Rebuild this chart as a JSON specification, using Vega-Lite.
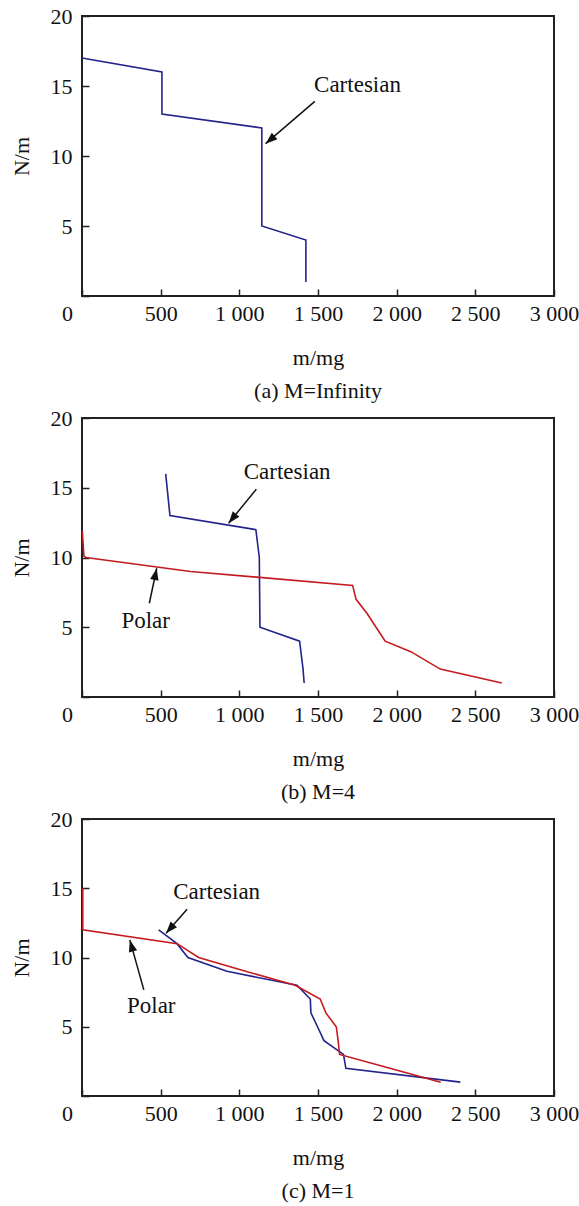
{
  "$schema": "https://vega.github.io/schema/vega-lite/v6.json",
  "background": "white",
  "padding": {"left": 9, "top": 4, "right": 0, "bottom": 0},
  "datasets": {
    "curves": [
      {"panel": "a", "series": "Cartesian", "m": 0, "N": 17},
      {"panel": "a", "series": "Cartesian", "m": 508, "N": 16},
      {"panel": "a", "series": "Cartesian", "m": 508, "N": 13},
      {"panel": "a", "series": "Cartesian", "m": 1143, "N": 12},
      {"panel": "a", "series": "Cartesian", "m": 1143, "N": 5},
      {"panel": "a", "series": "Cartesian", "m": 1423, "N": 4},
      {"panel": "a", "series": "Cartesian", "m": 1423, "N": 1},

      {"panel": "b", "series": "Cartesian", "m": 532, "N": 16},
      {"panel": "b", "series": "Cartesian", "m": 559, "N": 13},
      {"panel": "b", "series": "Cartesian", "m": 1105, "N": 12},
      {"panel": "b", "series": "Cartesian", "m": 1127, "N": 10},
      {"panel": "b", "series": "Cartesian", "m": 1131, "N": 5},
      {"panel": "b", "series": "Cartesian", "m": 1383, "N": 4},
      {"panel": "b", "series": "Cartesian", "m": 1405, "N": 2},
      {"panel": "b", "series": "Cartesian", "m": 1412, "N": 1},
      {"panel": "b", "series": "Polar", "m": 2, "N": 11.9},
      {"panel": "b", "series": "Polar", "m": 12, "N": 10.1},
      {"panel": "b", "series": "Polar", "m": 25, "N": 10},
      {"panel": "b", "series": "Polar", "m": 690, "N": 9},
      {"panel": "b", "series": "Polar", "m": 1720, "N": 8},
      {"panel": "b", "series": "Polar", "m": 1742, "N": 7},
      {"panel": "b", "series": "Polar", "m": 1811, "N": 6},
      {"panel": "b", "series": "Polar", "m": 1869, "N": 5},
      {"panel": "b", "series": "Polar", "m": 1927, "N": 4},
      {"panel": "b", "series": "Polar", "m": 2090, "N": 3.25},
      {"panel": "b", "series": "Polar", "m": 2277, "N": 2},
      {"panel": "b", "series": "Polar", "m": 2668, "N": 1},

      {"panel": "c", "series": "Cartesian", "m": 487, "N": 12},
      {"panel": "c", "series": "Cartesian", "m": 604, "N": 11},
      {"panel": "c", "series": "Cartesian", "m": 673, "N": 10},
      {"panel": "c", "series": "Cartesian", "m": 921, "N": 9},
      {"panel": "c", "series": "Cartesian", "m": 1366, "N": 8},
      {"panel": "c", "series": "Cartesian", "m": 1451, "N": 7},
      {"panel": "c", "series": "Cartesian", "m": 1455, "N": 6},
      {"panel": "c", "series": "Cartesian", "m": 1497, "N": 5},
      {"panel": "c", "series": "Cartesian", "m": 1538, "N": 4},
      {"panel": "c", "series": "Cartesian", "m": 1662, "N": 3},
      {"panel": "c", "series": "Cartesian", "m": 1677, "N": 2},
      {"panel": "c", "series": "Cartesian", "m": 2405, "N": 1},
      {"panel": "c", "series": "Polar", "m": 5, "N": 15},
      {"panel": "c", "series": "Polar", "m": 5, "N": 12},
      {"panel": "c", "series": "Polar", "m": 605, "N": 11},
      {"panel": "c", "series": "Polar", "m": 741, "N": 10},
      {"panel": "c", "series": "Polar", "m": 1040, "N": 9},
      {"panel": "c", "series": "Polar", "m": 1355, "N": 8},
      {"panel": "c", "series": "Polar", "m": 1514, "N": 7},
      {"panel": "c", "series": "Polar", "m": 1550, "N": 6},
      {"panel": "c", "series": "Polar", "m": 1616, "N": 5},
      {"panel": "c", "series": "Polar", "m": 1628, "N": 4},
      {"panel": "c", "series": "Polar", "m": 1637, "N": 3},
      {"panel": "c", "series": "Polar", "m": 1957, "N": 2},
      {"panel": "c", "series": "Polar", "m": 2280, "N": 1}
    ],
    "notes": [
      {"panel": "a", "label": "Cartesian", "m": 1751, "N": 15.07, "m0": 1480, "N0": 13.9, "m1": 1167, "N1": 10.88},
      {"panel": "b", "label": "Cartesian", "m": 1304, "N": 16.1, "m0": 1108, "N0": 14.9, "m1": 932, "N1": 12.46},
      {"panel": "b", "label": "Polar", "m": 405, "N": 5.46, "m0": 428, "N0": 6.72, "m1": 475, "N1": 9.23},
      {"panel": "c", "label": "Cartesian", "m": 856, "N": 14.76, "m0": 668, "N0": 13.48, "m1": 534, "N1": 11.75},
      {"panel": "c", "label": "Polar", "m": 440, "N": 6.47, "m0": 393, "N0": 7.66, "m1": 304, "N1": 11.27}
    ]
  },
  "config": {
    "font": "Liberation Serif",
    "view": {"stroke": "#222222", "strokeWidth": 2},
    "axis": {
      "domain": false,
      "grid": false,
      "ticks": true,
      "tickColor": "#222222",
      "tickWidth": 1.5,
      "tickSize": -7,
      "labelFlush": false,
      "labelOverlap": false,
      "labelFont": "Liberation Serif",
      "labelFontSize": 22,
      "labelColor": "#111111",
      "titleFont": "Liberation Serif",
      "titleFontSize": 22,
      "titleFontWeight": "normal",
      "titleColor": "#111111"
    },
    "title": {"font": "Liberation Serif", "fontSize": 22, "fontWeight": "normal", "color": "#111111"},
    "concat": {"spacing": 3}
  },
  "vconcat": [
    {
      "width": 472, "height": 280,
      "title": {"text": "(a) M=Infinity", "orient": "bottom", "offset": 13},
      "layer": [
        {
          "data": {"name": "curves"},
          "transform": [{"filter": "datum.panel === 'a'"}],
          "mark": {"type": "line", "strokeWidth": 1.6},
          "encoding": {
            "x": {"field": "m", "type": "quantitative", "scale": {"domain": [0, 3000], "nice": false},
                  "axis": {"values": [0, 500, 1000, 1500, 2000, 2500, 3000], "title": "m/mg", "labelPadding": 14, "titlePadding": 23,
                           "labelExpr": "replace(format(datum.value, ','), ',', ' ')",
                           "labelOffset": {"condition": {"test": "datum.value === 0", "value": -15}, "value": 0}}},
            "y": {"field": "N", "type": "quantitative", "scale": {"domain": [0, 20], "nice": false},
                  "axis": {"values": [0, 5, 10, 15, 20], "title": "N/m", "labelPadding": 17, "titlePadding": 17,
                           "labelExpr": "datum.value === 0 ? '' : datum.label"}},
            "color": {"field": "series", "type": "nominal", "scale": {"domain": ["Cartesian", "Polar"], "range": ["#23238c", "#c41a1f"]}, "legend": null},
            "order": {"value": null}
          }
        },
        {
          "data": {"name": "notes"},
          "transform": [{"filter": "datum.panel === 'a'"}],
          "layer": [
            {"mark": {"type": "rule", "strokeWidth": 1.5, "color": "#111111"},
             "encoding": {"x": {"field": "m0", "type": "quantitative"}, "y": {"field": "N0", "type": "quantitative"},
                          "x2": {"field": "m1"}, "y2": {"field": "N1"}}},
            {"transform": [{"calculate": "atan2((datum.m1 - datum.m0) * 0.1573, (datum.N1 - datum.N0) * 14) * 180 / PI", "as": "ang"}],
             "mark": {"type": "point", "shape": "M0,0 L0.36,1 L-0.36,1 Z", "filled": true, "color": "#111111", "size": 560, "opacity": 1},
             "encoding": {"x": {"field": "m1", "type": "quantitative"}, "y": {"field": "N1", "type": "quantitative"},
                          "angle": {"field": "ang", "type": "quantitative", "scale": null}}},
            {"mark": {"type": "text", "fontSize": 23, "color": "#111111", "font": "Liberation Serif"},
             "encoding": {"x": {"field": "m", "type": "quantitative"}, "y": {"field": "N", "type": "quantitative"}, "text": {"field": "label"}}}
          ]
        }
      ]
    },
    {
      "width": 472, "height": 279,
      "title": {"text": "(b) M=4", "orient": "bottom", "offset": 13},
      "layer": [
        {
          "data": {"name": "curves"},
          "transform": [{"filter": "datum.panel === 'b'"}],
          "mark": {"type": "line", "strokeWidth": 1.6},
          "encoding": {
            "x": {"field": "m", "type": "quantitative", "scale": {"domain": [0, 3000], "nice": false},
                  "axis": {"values": [0, 500, 1000, 1500, 2000, 2500, 3000], "title": "m/mg", "labelPadding": 14, "titlePadding": 23,
                           "labelExpr": "replace(format(datum.value, ','), ',', ' ')",
                           "labelOffset": {"condition": {"test": "datum.value === 0", "value": -15}, "value": 0}}},
            "y": {"field": "N", "type": "quantitative", "scale": {"domain": [0, 20], "nice": false},
                  "axis": {"values": [0, 5, 10, 15, 20], "title": "N/m", "labelPadding": 17, "titlePadding": 17,
                           "labelExpr": "datum.value === 0 ? '' : datum.label"}},
            "color": {"field": "series", "type": "nominal", "scale": {"domain": ["Cartesian", "Polar"], "range": ["#23238c", "#c41a1f"]}, "legend": null},
            "order": {"value": null}
          }
        },
        {
          "data": {"name": "notes"},
          "transform": [{"filter": "datum.panel === 'b'"}],
          "layer": [
            {"mark": {"type": "rule", "strokeWidth": 1.5, "color": "#111111"},
             "encoding": {"x": {"field": "m0", "type": "quantitative"}, "y": {"field": "N0", "type": "quantitative"},
                          "x2": {"field": "m1"}, "y2": {"field": "N1"}}},
            {"transform": [{"calculate": "atan2((datum.m1 - datum.m0) * 0.1573, (datum.N1 - datum.N0) * 14) * 180 / PI", "as": "ang"}],
             "mark": {"type": "point", "shape": "M0,0 L0.36,1 L-0.36,1 Z", "filled": true, "color": "#111111", "size": 560, "opacity": 1},
             "encoding": {"x": {"field": "m1", "type": "quantitative"}, "y": {"field": "N1", "type": "quantitative"},
                          "angle": {"field": "ang", "type": "quantitative", "scale": null}}},
            {"mark": {"type": "text", "fontSize": 23, "color": "#111111", "font": "Liberation Serif"},
             "encoding": {"x": {"field": "m", "type": "quantitative"}, "y": {"field": "N", "type": "quantitative"}, "text": {"field": "label"}}}
          ]
        }
      ]
    },
    {
      "width": 472, "height": 277,
      "title": {"text": "(c) M=1", "orient": "bottom", "offset": 13},
      "layer": [
        {
          "data": {"name": "curves"},
          "transform": [{"filter": "datum.panel === 'c'"}],
          "mark": {"type": "line", "strokeWidth": 1.6},
          "encoding": {
            "x": {"field": "m", "type": "quantitative", "scale": {"domain": [0, 3000], "nice": false},
                  "axis": {"values": [0, 500, 1000, 1500, 2000, 2500, 3000], "title": "m/mg", "labelPadding": 14, "titlePadding": 23,
                           "labelExpr": "replace(format(datum.value, ','), ',', ' ')",
                           "labelOffset": {"condition": {"test": "datum.value === 0", "value": -15}, "value": 0}}},
            "y": {"field": "N", "type": "quantitative", "scale": {"domain": [0, 20], "nice": false},
                  "axis": {"values": [0, 5, 10, 15, 20], "title": "N/m", "labelPadding": 17, "titlePadding": 17,
                           "labelExpr": "datum.value === 0 ? '' : datum.label"}},
            "color": {"field": "series", "type": "nominal", "scale": {"domain": ["Cartesian", "Polar"], "range": ["#23238c", "#c41a1f"]}, "legend": null},
            "order": {"value": null}
          }
        },
        {
          "data": {"name": "notes"},
          "transform": [{"filter": "datum.panel === 'c'"}],
          "layer": [
            {"mark": {"type": "rule", "strokeWidth": 1.5, "color": "#111111"},
             "encoding": {"x": {"field": "m0", "type": "quantitative"}, "y": {"field": "N0", "type": "quantitative"},
                          "x2": {"field": "m1"}, "y2": {"field": "N1"}}},
            {"transform": [{"calculate": "atan2((datum.m1 - datum.m0) * 0.1573, (datum.N1 - datum.N0) * 13.85) * 180 / PI", "as": "ang"}],
             "mark": {"type": "point", "shape": "M0,0 L0.36,1 L-0.36,1 Z", "filled": true, "color": "#111111", "size": 560, "opacity": 1},
             "encoding": {"x": {"field": "m1", "type": "quantitative"}, "y": {"field": "N1", "type": "quantitative"},
                          "angle": {"field": "ang", "type": "quantitative", "scale": null}}},
            {"mark": {"type": "text", "fontSize": 23, "color": "#111111", "font": "Liberation Serif"},
             "encoding": {"x": {"field": "m", "type": "quantitative"}, "y": {"field": "N", "type": "quantitative"}, "text": {"field": "label"}}}
          ]
        }
      ]
    }
  ]
}
